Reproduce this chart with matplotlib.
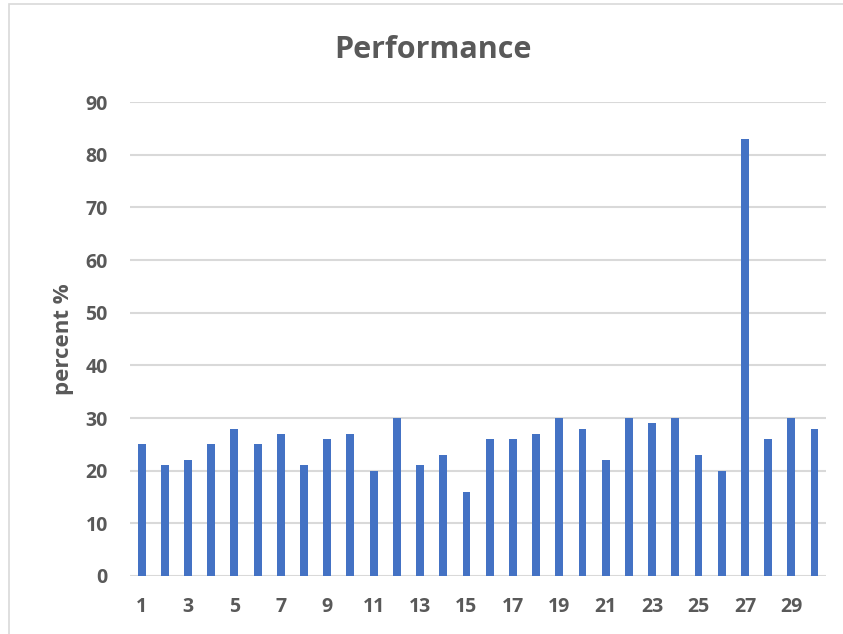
import matplotlib.pyplot as plt
from matplotlib.patches import Rectangle
from matplotlib.ticker import FixedLocator

# percent per run
runs = list(range(1, 31))
percent = [25, 21, 22, 25, 28, 25, 27, 21, 26, 27,
           20, 30, 21, 23, 16, 26, 26, 27, 30, 28,
           22, 30, 29, 30, 23, 20, 83, 26, 30, 28]
y_ticks = [0, 10, 20, 30, 40, 50, 60, 70, 80, 90]
x_labels = [1, 3, 5, 7, 9, 11, 13, 15, 17, 19, 21, 23, 25, 27, 29]

plt.rcParams['font.family'] = ['Open Sans', 'DejaVu Sans']
grey = '#595959'

fig = plt.figure(figsize=(8.43, 6.34), dpi=100)
ax = fig.add_axes([0.1542, 0.0915, 0.8258, 0.7475])

ax.bar(runs, percent, width=0.34, color='#4472C4', zorder=3)

ax.set_xlim(0.5, 30.5)
ax.set_ylim(0, 90)
ax.yaxis.set_major_locator(FixedLocator(y_ticks))
ax.set_xticks(x_labels)
ax.grid(axis='y', color='#d9d9d9', linewidth=1.5, zorder=0)
for s in ax.spines.values():
    s.set_visible(False)
ax.tick_params(axis='both', length=0, labelsize=14, labelcolor=grey)
ax.tick_params(axis='x', pad=15)
ax.tick_params(axis='y', pad=16)
for lab in ax.get_xticklabels() + ax.get_yticklabels():
    lab.set_fontweight('bold')

ax.set_ylabel('percent %', fontsize=16, fontweight='bold', color=grey, labelpad=8)
fig.text(0.514, 0.921, 'Performance', ha='center', va='center',
         fontsize=22, fontweight='bold', color=grey)

# chart frame
fig.patches.append(Rectangle((9 / 843, -0.01), 1.0, 1 - 4 / 634 + 0.01,
                             transform=fig.transFigure, fill=False,
                             edgecolor='#d9d9d9', linewidth=1.2))

fig.savefig('out.png', dpi=100, facecolor='white')
